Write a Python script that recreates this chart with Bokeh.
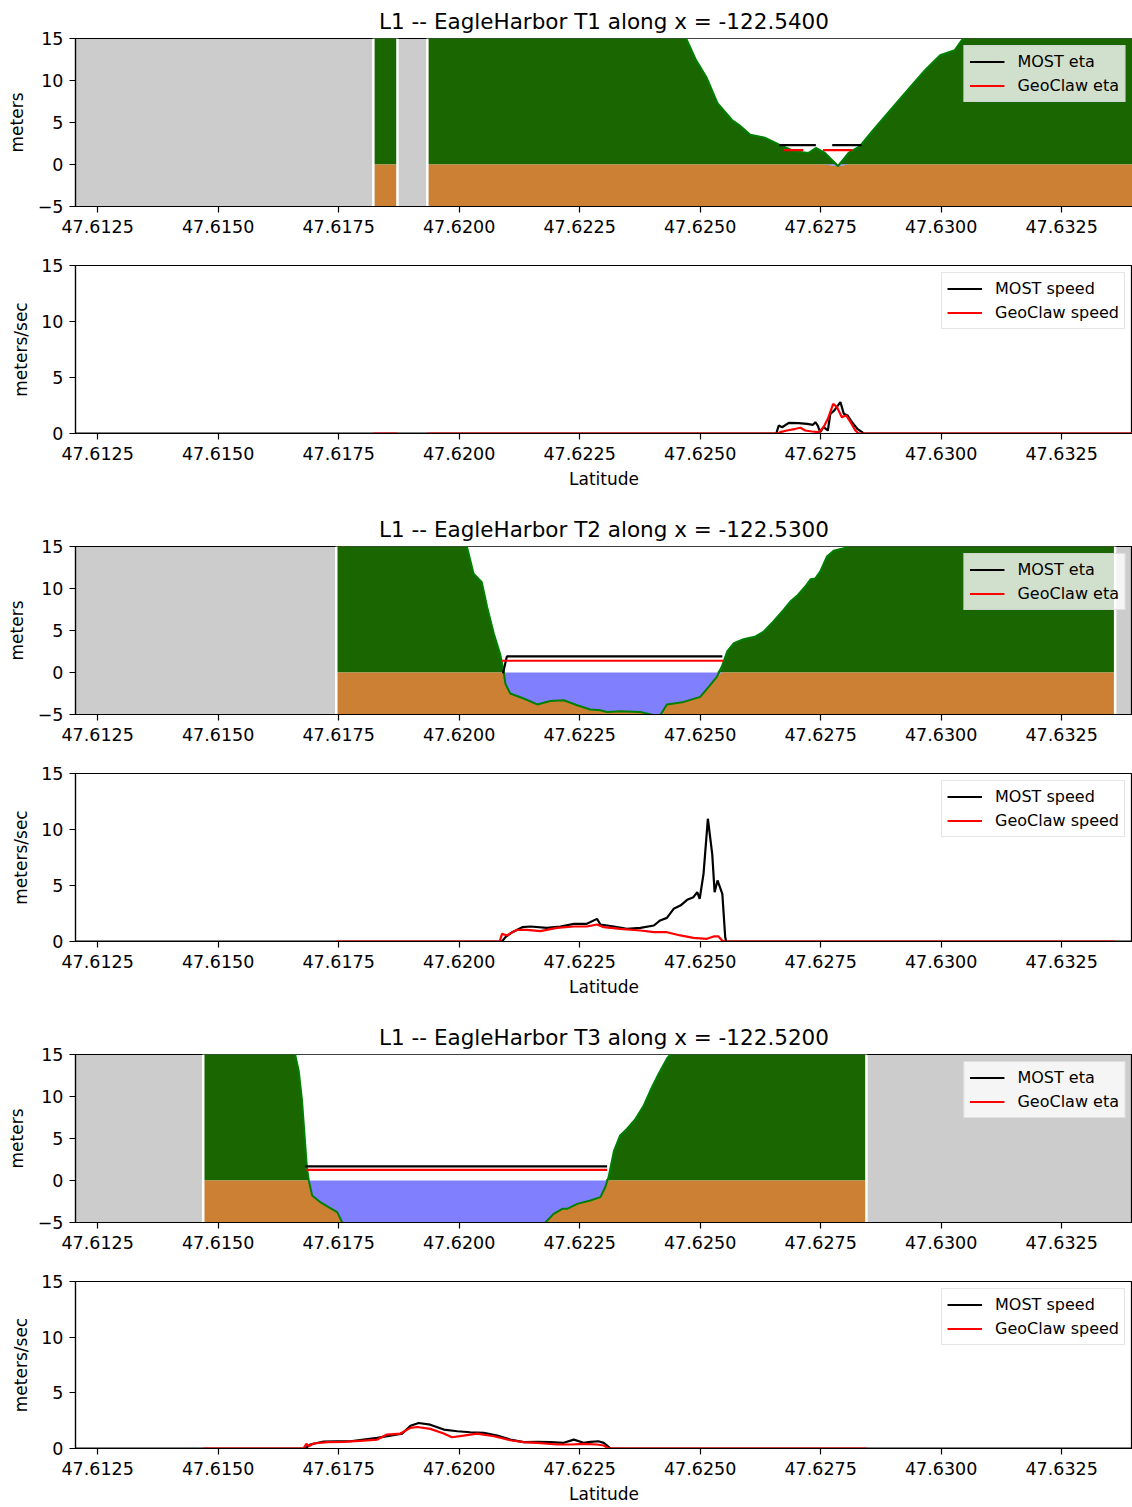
import numpy as np
from bokeh.plotting import figure
from bokeh.layouts import column
from bokeh.models import Range1d, FixedTicker, Legend, LegendItem, NumeralTickFormatter
from bokeh.embed import file_html
from bokeh.resources import INLINE

nan = float("nan")

# ---------------- axes / text ----------------
lat_ticks = [47.6125, 47.6150, 47.6175, 47.6200, 47.6225, 47.6250, 47.6275, 47.6300, 47.6325]
lat_min, lat_max = 47.61204, 47.63397
eta_ticks = [-5, 0, 5, 10, 15]
speed_ticks = [0, 5, 10, 15]
titles = ["L1 -- EagleHarbor T1 along x = -122.5400",
          "L1 -- EagleHarbor T2 along x = -122.5300",
          "L1 -- EagleHarbor T3 along x = -122.5200"]

# ---------------- T1 ----------------
t1_lat = [47.61822, 47.61872, nan,
          47.61934, 47.62465, 47.62471, 47.62490, 47.62513, 47.62536, 47.62566, 47.62581,
          47.62604, 47.62634, 47.62664, 47.62695, 47.62725, 47.62740, 47.62759, 47.62786,
          47.62808, 47.62831, 47.62854, 47.62877, 47.62907, 47.62937, 47.62967, 47.62998,
          47.63028, 47.63043, 47.63047, 47.63053, 47.63400]
t1_B = [20, 20, nan,
        20, 20, 15, 12.6, 10.4, 7.3, 5.3, 4.7,
        3.55, 3.2, 2.37, 1.58, 1.38, 1.97, 1.38, -0.2,
        1.38, 2.17, 3.75, 5.3, 7.3, 9.3, 11.25, 13.0,
        13.6, 14.8, 15, 20, 20]
t1_most_eta_lat = [47.62664, 47.62740, nan, 47.62774, 47.62835]
t1_most_eta = [2.3, 2.3, nan, 2.3, 2.3]
t1_geo_eta_lat = [47.62673, 47.62714, nan, 47.62755, 47.62816]
t1_geo_eta = [1.7, 1.7, nan, 1.7, 1.7]
t1_most_spd_lat = [47.6120, 47.62658, 47.62663, 47.62670, 47.62684, 47.62704, 47.62722, 47.62734,
                   47.62739, 47.62744, 47.62749, 47.62756, 47.62765, 47.62770, 47.62778, 47.62791,
                   47.62798, 47.62806, 47.62815, 47.62826, 47.62836, 47.62839, 47.6340]
t1_most_spd = [0, 0, 0.71, 0.56, 0.95, 0.92, 0.86, 0.77,
               1.01, 0.71, 0.12, 0.56, 0.27, 1.76, 2.05, 2.8,
               1.76, 1.6, 1.01, 0.42, 0.12, 0, 0]
t1_geo_spd_lat = [47.61822, 47.61872, nan, 47.61934, 47.62662, 47.62666, 47.62680, 47.62698,
                  47.62708, 47.62718, 47.62732, 47.62746, 47.62756, 47.62765, 47.62776, 47.62784,
                  47.62794, 47.62803, 47.62812, 47.62822, 47.62829, 47.6340]
t1_geo_spd = [0, 0, nan, 0, 0, 0.12, 0.27, 0.42,
              0.51, 0.27, 0.18, 0.12, 0.56, 1.31, 2.65, 2.35,
              1.46, 1.61, 1.01, 0.27, 0, 0]

# ---------------- T2 ----------------
t2_lat = [47.61745, 47.62012, 47.62016, 47.62030, 47.62047, 47.62058, 47.62072, 47.62085,
          47.62092, 47.62096, 47.62106, 47.62134, 47.62162, 47.62189, 47.62217, 47.62245,
          47.62272, 47.62293, 47.62307, 47.62334, 47.62376, 47.62404, 47.62417, 47.62431,
          47.62466, 47.62500, 47.62518, 47.62535, 47.62545, 47.62556, 47.62570, 47.62590,
          47.62615, 47.62632, 47.62652, 47.62673, 47.62687, 47.62701, 47.62718, 47.62729,
          47.62739, 47.62749, 47.62763, 47.62777, 47.62798, 47.62805, 47.62810, 47.63361]
t2_B = [20, 20, 15, 11.75, 10.75, 7.8, 4.6, 2.2,
        0.24, -1.35, -2.5, -3.1, -3.8, -3.4, -3.3, -3.9,
        -4.4, -4.5, -4.7, -4.6, -4.7, -5.1, -5.1, -3.8,
        -3.5, -2.9, -1.67, -0.48, 0.71, 2.5, 3.5, 3.97,
        4.29, 4.88, 6.07, 7.46, 8.45, 9.13, 10.24, 11.1,
        11.2, 12.0, 13.8, 14.5, 14.8, 15, 20, 20]
t2_most_eta_lat = [47.62091, 47.62099, 47.62546]
t2_most_eta = [-0.1, 1.92, 1.92]
t2_geo_eta_lat = [47.62089, 47.62548]
t2_geo_eta = [1.4, 1.4]
t2_most_spd_lat = [47.6120, 47.62089, 47.62096, 47.62110, 47.62131, 47.62148, 47.62182, 47.62210,
                   47.62238, 47.62265, 47.62286, 47.62293, 47.62321, 47.62348, 47.62376, 47.62404,
                   47.62417, 47.62431, 47.62445, 47.62459, 47.62473, 47.62486, 47.62494, 47.62499,
                   47.62507, 47.62516, 47.62525, 47.62530, 47.62536, 47.62546, 47.62552, 47.62554,
                   47.6340]
t2_most_spd = [0, 0, 0.39, 0.83, 1.28, 1.34, 1.22, 1.34,
               1.58, 1.58, 2.02, 1.52, 1.34, 1.13, 1.22, 1.43,
               1.88, 2.11, 2.92, 3.21, 3.72, 3.96, 4.4, 3.81,
               6.04, 10.96, 7.83, 4.4, 5.45, 4.26, 0.38, 0,
               0]
t2_geo_spd_lat = [47.61745, 47.62084, 47.62089, 47.62099, 47.62120, 47.62141, 47.62168, 47.62203,
                  47.62238, 47.62265, 47.62286, 47.62300, 47.62334, 47.62376, 47.62404, 47.62431,
                  47.62459, 47.62486, 47.62514, 47.62528, 47.62538, 47.62546, 47.62552, 47.63361]
t2_geo_spd = [0, 0, 0.69, 0.54, 1.04, 1.04, 0.92, 1.22,
              1.34, 1.34, 1.52, 1.28, 1.13, 0.98, 0.83, 0.83,
              0.54, 0.33, 0.24, 0.45, 0.45, 0.06, 0, 0]

# ---------------- T3 ----------------
t3_lat = [47.61469, 47.61655, 47.61660, 47.61667, 47.61674, 47.61679, 47.61684, 47.61688,
          47.61695, 47.61712, 47.61729, 47.61747, 47.61757, 47.61770, 47.61960, 47.62165,
          47.62179, 47.62196, 47.62214, 47.62224, 47.62245, 47.62272, 47.62293, 47.62303,
          47.62310, 47.62321, 47.62334, 47.62348, 47.62366, 47.62383, 47.62400, 47.62414,
          47.62431, 47.62438, 47.62445, 47.62845]
t3_B = [20, 20, 14.9, 13.1, 9.5, 5.56, 1.59, 0,
        -1.79, -2.58, -3.17, -3.77, -4.96, -6.5, -8, -6.5,
        -5, -3.97, -3.37, -3.37, -2.78, -2.38, -1.98, -0.8,
        0.4, 3.5, 5.36, 6.15, 7.34, 8.93, 11.1, 12.7,
        14.5, 15, 20, 20]
t3_most_eta_lat = [47.61681, 47.62307]
t3_most_eta = [1.67, 1.67]
t3_geo_eta_lat = [47.61683, 47.62307]
t3_geo_eta = [1.27, 1.27]
t3_most_spd_lat = [47.6120, 47.61681, 47.61691, 47.61719, 47.61747, 47.61774, 47.61802, 47.61830,
                   47.61857, 47.61882, 47.61899, 47.61916, 47.61940, 47.61968, 47.61996, 47.62023,
                   47.62051, 47.62079, 47.62106, 47.62134, 47.62162, 47.62189, 47.62217, 47.62238,
                   47.62258, 47.62272, 47.62289, 47.62300, 47.62310, 47.62314, 47.6340]
t3_most_spd = [0, 0, 0.36, 0.63, 0.65, 0.65, 0.80, 0.95,
               1.16, 1.34, 2.05, 2.29, 2.14, 1.70, 1.55, 1.46,
               1.40, 1.16, 0.80, 0.57, 0.60, 0.57, 0.51, 0.80,
               0.51, 0.60, 0.65, 0.51, 0.15, 0, 0]
t3_geo_spd_lat = [47.61469, 47.61677, 47.61683, 47.61688, 47.61698, 47.61726, 47.61760, 47.61802,
                  47.61830, 47.61850, 47.61878, 47.61899, 47.61913, 47.61940, 47.61968, 47.61985,
                  47.62009, 47.62037, 47.62072, 47.62106, 47.62134, 47.62162, 47.62203, 47.62231,
                  47.62258, 47.62286, 47.62300, 47.62310, 47.62845]
t3_geo_spd = [0, 0, 0.42, 0.2, 0.45, 0.57, 0.60, 0.71,
              0.80, 1.25, 1.34, 1.85, 1.93, 1.76, 1.34, 1.01,
              1.16, 1.34, 1.10, 0.74, 0.57, 0.51, 0.36, 0.36,
              0.42, 0.36, 0.27, 0, 0]

# ---------------- styling ----------------
FONT = "DejaVu Sans"
C_GRAY = "#cccccc"
C_LAND = "#1a6600"
C_SOIL = "#cc8033"
C_WATER = "#8080ff"
C_TOPO = "#008000"
FIG_W = 1132


def segments(lat, vals):
    segs, cx, cy = [], [], []
    for x, y in zip(lat, vals):
        if np.isnan(x):
            if cx:
                segs.append((cx, cy))
            cx, cy = [], []
        else:
            cx.append(x)
            cy.append(y)
    if cx:
        segs.append((cx, cy))
    return segs


def make_fig(height, top, bottom, yr, yticks, ylabel, xlabel, bg, title=None, ylab_standoff=8):
    p = figure(width=FIG_W, height=height, x_range=Range1d(lat_min, lat_max),
               y_range=Range1d(*yr), output_backend="svg", toolbar_location=None,
               min_border_left=75, min_border_right=0, min_border_top=top,
               min_border_bottom=bottom, background_fill_color=bg,
               border_fill_color="white", title=title)
    p.grid.visible = False
    p.outline_line_color = "black"
    p.outline_line_width = 1.2
    for ax in (p.xaxis[0], p.yaxis[0]):
        ax.axis_line_color = "black"
        ax.axis_line_width = 1.2
        ax.major_tick_line_color = "black"
        ax.major_tick_line_width = 1.2
        ax.major_tick_out = 6
        ax.major_tick_in = 0
        ax.minor_tick_line_color = None
        ax.major_label_text_font = FONT
        ax.major_label_text_font_size = "17.5px"
        ax.major_label_text_color = "black"
        ax.major_label_standoff = 6
        ax.axis_label_text_font = FONT
        ax.axis_label_text_font_size = "17px"
        ax.axis_label_text_font_style = "normal"
        ax.axis_label_text_color = "black"
    p.xaxis.major_label_standoff = 7
    p.xaxis.ticker = FixedTicker(ticks=lat_ticks)
    p.xaxis.formatter = NumeralTickFormatter(format="0.0000")
    p.yaxis.ticker = FixedTicker(ticks=yticks)
    p.yaxis.major_label_overrides = {-5: "\u22125"}
    p.yaxis.axis_label = ylabel
    p.yaxis.axis_label_standoff = ylab_standoff
    if xlabel:
        p.xaxis.axis_label = xlabel
        p.xaxis.axis_label_standoff = 6
    if title is not None:
        p.title.align = "center"
        p.title.text_font = FONT
        p.title.text_font_size = "21.5px"
        p.title.text_font_style = "normal"
        p.title.text_color = "black"
        if hasattr(p.title, "standoff"):
            p.title.standoff = 10
    return p


def add_legend(p, items):
    leg = Legend(items=items, location="top_right", margin=7, padding=5, spacing=3,
                 glyph_width=35, glyph_height=21, label_height=21, label_standoff=13,
                 label_text_font=FONT, label_text_font_size="16px", label_text_color="black",
                 background_fill_color="white", background_fill_alpha=0.8,
                 border_line_color="#cccccc", border_line_width=1)
    p.add_layout(leg)


def eta_fig(title, lat, B, m_lat, m_eta, g_lat, g_eta, height, top, bottom):
    p = make_fig(height, top, bottom, (-5, 15), eta_ticks, "meters", None, C_GRAY, title, 8)
    for xs, bs in segments(lat, B):
        b = np.array(bs, dtype=float)
        p.varea(x=xs, y1=-5, y2=15, fill_color="white")
        p.varea(x=xs, y1=0, y2=np.maximum(b, 0), fill_color=C_LAND)
        p.varea(x=xs, y1=-5, y2=np.minimum(b, 0), fill_color=C_SOIL)
        p.varea(x=xs, y1=np.minimum(b, 0), y2=0, fill_color=C_WATER)
    p.line(lat, B, line_color=C_TOPO, line_width=2)
    for xs, bs in segments(lat, B):
        p.segment(x0=[xs[0], xs[-1]], y0=[-5, -5], x1=[xs[0], xs[-1]], y1=[15, 15],
                  line_color="white", line_width=2.5)
    r1 = p.line(m_lat, m_eta, line_color="black", line_width=2.2)
    r2 = p.line(g_lat, g_eta, line_color="red", line_width=2.2)
    add_legend(p, [LegendItem(label="MOST eta", renderers=[r1]),
                   LegendItem(label="GeoClaw eta", renderers=[r2])])
    return p


def speed_fig(m_lat, m_spd, g_lat, g_spd, height, top, bottom):
    p = make_fig(height, top, bottom, (0, 15), speed_ticks, "meters/sec", "Latitude", "white",
                 None, 7)
    r1 = p.line(m_lat, m_spd, line_color="black", line_width=2.2)
    r2 = p.line(g_lat, g_spd, line_color="red", line_width=2.2)
    add_legend(p, [LegendItem(label="MOST speed", renderers=[r1]),
                   LegendItem(label="GeoClaw speed", renderers=[r2])])
    return p


f1 = eta_fig(titles[0], t1_lat, t1_B, t1_most_eta_lat, t1_most_eta, t1_geo_eta_lat, t1_geo_eta,
             246, 38, 40)
f2 = speed_fig(t1_most_spd_lat, t1_most_spd, t1_geo_spd_lat, t1_geo_spd, 254, 19, 67)
f3 = eta_fig(titles[1], t2_lat, t2_B, t2_most_eta_lat, t2_most_eta, t2_geo_eta_lat, t2_geo_eta,
             254, 46, 40)
f4 = speed_fig(t2_most_spd_lat, t2_most_spd, t2_geo_spd_lat, t2_geo_spd, 254, 19, 67)
f5 = eta_fig(titles[2], t3_lat, t3_B, t3_most_eta_lat, t3_most_eta, t3_geo_eta_lat, t3_geo_eta,
             254, 46, 40)
f6 = speed_fig(t3_most_spd_lat, t3_most_spd, t3_geo_spd_lat, t3_geo_spd, 244, 19, 56)

layout = column(f1, f2, f3, f4, f5, f6, spacing=0)
open("out.html", "w").write(file_html(layout, INLINE))
